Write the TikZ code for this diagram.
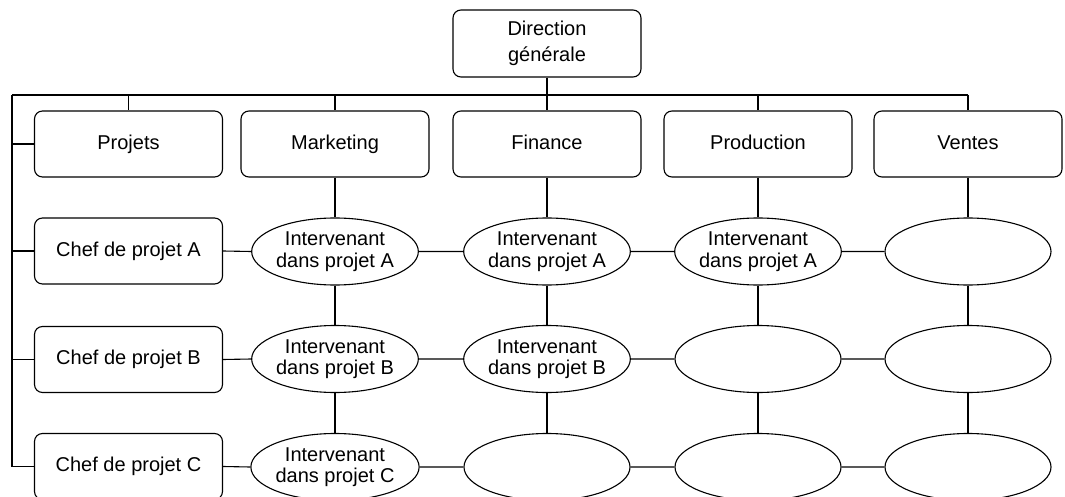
\documentclass[tikz,border=0pt]{standalone}
\usepackage{fontspec}
\setmainfont{Liberation Sans}
\usetikzlibrary{shapes.geometric}
\begin{document}
\begin{tikzpicture}[x=1pt,y=-1pt,
    every node/.style={font=\fontsize{20}{21.5}\selectfont},
    box/.style={draw, rounded corners=8pt, minimum width=188pt, minimum height=66pt, inner sep=0pt, text height=14.5pt, text depth=4pt},
    headbox/.style={draw, rounded corners=8pt, minimum width=188pt, minimum height=67pt, inner sep=0pt, align=center},
    oval/.style={draw, ellipse, minimum width=166pt, minimum height=67pt, inner sep=0pt, align=center},
    link/.style={line width=1.1pt}]
  \useasboundingbox (0,0) rectangle (1065,497);
  \clip (0,0) rectangle (1065,497);
  \tikzset{every node/.append style={line width=1.1pt}}

  % top of the hierarchy
  \node[headbox] (dg) at (547,43.5) {Direction\\[5pt]générale};

  % departments
  \node[box] (proj) at (128.5,144) {Projets};
  \node[box] (mkt)  at (335,144)   {Marketing};
  \node[box] (fin)  at (547,144)   {Finance};
  \node[box] (prod) at (758,144)   {Production};
  \node[box] (vent) at (968,144)   {Ventes};

  % project managers
  \node[box] (cA) at (128.5,251)   {Chef de projet A};
  \node[box] (cB) at (128.5,359.5) {Chef de projet B};
  \node[box] (cC) at (128.5,466.5) {Chef de projet C};

  % contributors: rows = projects, columns = departments
  \node[oval] (a1) at (335,251.5) {Intervenant\\dans projet A};
  \node[oval] (a2) at (547,251.5) {Intervenant\\dans projet A};
  \node[oval] (a3) at (758,251.5) {Intervenant\\dans projet A};
  \node[oval] (a4) at (968,251.5) {};
  \node[oval] (b1) at (335,359)   {Intervenant\\dans projet B};
  \node[oval] (b2) at (547,359)   {Intervenant\\dans projet B};
  \node[oval] (b3) at (758,359)   {};
  \node[oval] (b4) at (968,359)   {};
  \node[oval] (c1) at (335,467)   {Intervenant\\dans projet C};
  \node[oval] (c2) at (547,467)   {};
  \node[oval] (c3) at (758,467)   {};
  \node[oval] (c4) at (968,467)   {};

  % horizontal bus under the general management
  \coordinate (busL) at (12,95);
  \coordinate (busR) at (vent.north |- busL);
  \draw[link] (busL) -- (busR);
  \draw[link] (dg.south) -- (dg.south |- busL);
  \foreach \d in {proj,mkt,fin,prod,vent}
    \draw[link] (\d.north |- busL) -- (\d.north);

  % left spine feeding the project side
  \draw[link] (busL) |- (cC.west);
  \foreach \d in {proj,cA,cB}
    \draw[link] (busL |- \d.west) -- (\d.west);

  % department columns
  \draw[link] (mkt.south)  -- (a1.north) (a1.south) -- (b1.north) (b1.south) -- (c1.north);
  \draw[link] (fin.south)  -- (a2.north) (a2.south) -- (b2.north) (b2.south) -- (c2.north);
  \draw[link] (prod.south) -- (a3.north) (a3.south) -- (b3.north) (b3.south) -- (c3.north);
  \draw[link] (vent.south) -- (a4.north) (a4.south) -- (b4.north) (b4.south) -- (c4.north);

  % project rows
  \draw[link] (cA.east) -- (a1.west) (a1.east) -- (a2.west) (a2.east) -- (a3.west) (a3.east) -- (a4.west);
  \draw[link] (cB.east) -- (b1.west) (b1.east) -- (b2.west) (b2.east) -- (b3.west) (b3.east) -- (b4.west);
  \draw[link] (cC.east) -- (c1.west) (c1.east) -- (c2.west) (c2.east) -- (c3.west) (c3.east) -- (c4.west);
\end{tikzpicture}
\end{document}
